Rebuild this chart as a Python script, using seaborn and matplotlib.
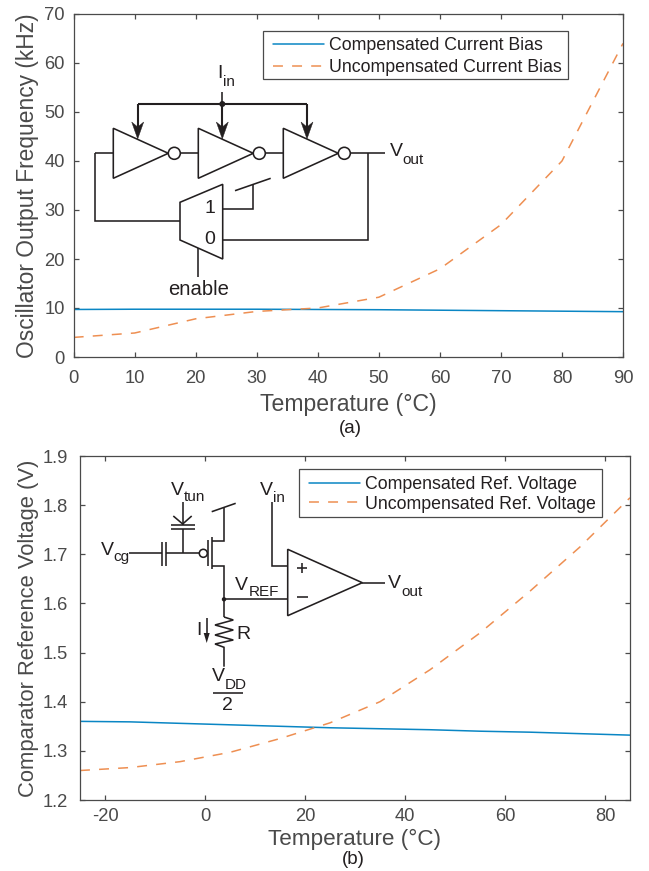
import numpy as np
import pandas as pd
import seaborn as sns
import matplotlib
matplotlib.use("Agg")
import matplotlib.pyplot as plt
from matplotlib.patches import Circle, Polygon, Rectangle

sns.set_theme(style="ticks")
plt.rcParams["font.family"] = ["Liberation Sans", "DejaVu Sans"]
plt.rcParams["axes.unicode_minus"] = False

temp_a = [0, 10, 20, 30, 40, 50, 60, 70, 80, 90]
comp_a = [9.7, 9.75, 9.75, 9.75, 9.7, 9.65, 9.55, 9.45, 9.35, 9.25]
uncomp_a = [4.0, 4.9, 7.8, 9.3, 10.0, 12.2, 18.0, 27.0, 40.0, 64.0]
temp_b = [-25, -15, -5, 5, 15, 25, 35, 45, 55, 65, 75, 85]
comp_b = [1.36, 1.359, 1.356, 1.353, 1.35, 1.347, 1.345, 1.343, 1.34, 1.338, 1.335, 1.332]
uncomp_b = [1.26, 1.266, 1.278, 1.297, 1.325, 1.357, 1.40, 1.465, 1.54, 1.625, 1.715, 1.815]
names_a = ["Compensated Current Bias", "Uncompensated Current Bias"]
names_b = ["Compensated Ref. Voltage", "Uncompensated Ref. Voltage"]
xticks_a = list(range(0, 91, 10))
yticks_a = list(range(0, 71, 10))
xticks_b = [-20, 0, 20, 40, 60, 80]
yticks_b = [1.2, 1.3, 1.4, 1.5, 1.6, 1.7, 1.8, 1.9]

W, H = 649, 871
BLUE, ORANGE, DARK, INK = "#0a86c4", "#ee8f52", "#4a4a4a", "#231f20"
fig = plt.figure(figsize=(W / 100, H / 100), dpi=100, facecolor="white")

# Overlay in pixel space for the schematics, captions and legend anchoring
ov = fig.add_axes([0, 0, 1, 1], facecolor="none", zorder=5)
ov.set_xlim(0, W)
ov.set_ylim(H, 0)
ov.axis("off")


def make_axes(x0, x1, ytop, ybot):
    return fig.add_axes([x0 / W, 1 - ybot / H, (x1 - x0) / W, (ybot - ytop) / H])


def panel(ax, box, x, c, u, names, xlim, ylim, xticks, yticks, ylabel, ylabs,
          xpad, ypad, xlabel_size, ylabel_size, xlabel_y, ylabel_x,
          frame, anchor, leg_size, leg_space):
    x0, x1, ytop, ybot = box
    df = pd.concat([
        pd.DataFrame({"T": x, "v": c, "s": names[0]}),
        pd.DataFrame({"T": x, "v": u, "s": names[1]}),
    ])
    sns.lineplot(data=df, x="T", y="v", hue="s", style="s",
                 palette=[BLUE, ORANGE], dashes=[(None, None), (6.5, 6)],
                 linewidth=1.1, ax=ax, legend=True, errorbar=None)
    ax.set_xlim(*xlim)
    ax.set_ylim(*ylim)
    ax.set_xticks(xticks)
    ax.set_yticks(yticks)
    ax.set_yticklabels(ylabs)
    ax.tick_params(direction="in", top=True, right=True, length=3.6, width=0.9,
                   color=DARK, labelcolor=DARK, labelsize=13.2)
    ax.tick_params(axis="x", pad=xpad)
    ax.tick_params(axis="y", pad=ypad)
    for s in ax.spines.values():
        s.set_visible(True)
        s.set_color(DARK)
        s.set_linewidth(0.9)
    ax.set_xlabel("Temperature (°C)", fontsize=xlabel_size, color=DARK, va="center")
    ax.set_ylabel(ylabel, fontsize=ylabel_size, color=DARK, va="center")
    ax.xaxis.set_label_coords(0.5, -(xlabel_y - ybot) / (ybot - ytop))
    ax.yaxis.set_label_coords(-(x0 - ylabel_x) / (x1 - x0), 0.5)
    fx0, fx1, fy0, fy1 = frame
    ax.add_patch(Rectangle((fx0, fy0), fx1 - fx0, fy1 - fy0, transform=ov.transData,
                           fc="white", ec=DARK, lw=0.9, zorder=4, clip_on=False))
    ax.legend(loc="upper left", bbox_to_anchor=anchor, bbox_transform=ov.transData,
              frameon=False, fontsize=leg_size, labelcolor=INK, borderpad=0,
              labelspacing=leg_space, handlelength=2.87, handletextpad=0.26,
              borderaxespad=0)


box_a = (73.7, 623, 14, 357)
axa = make_axes(*box_a)
panel(axa, box_a, temp_a, comp_a, uncomp_a, names_a, (0, 90), (0, 70), xticks_a, yticks_a,
      "Oscillator Output Frequency (kHz)", [str(v) for v in yticks_a],
      9.5, 6.3, 16.6, 16.4, 405, 28,
      (263.3, 568.3, 30.7, 79), (273, 37.5), 12.8, 0.25)
box_b = (80, 630, 456, 800)
axb = make_axes(*box_b)
panel(axb, box_b, temp_b, comp_b, uncomp_b, names_b, (-25, 85), (1.2, 1.9), xticks_b, yticks_b,
      "Comparator Reference Voltage (V)", [f"{v:.1f}" for v in yticks_b],
      6, 8.6, 16.2, 15.8, 839.5, 29,
      (299.3, 601.7, 469, 516.7), (309.3, 476.2), 12.8, 0.13)

LW = 1.15


def wire(*pts, lw=LW):
    xs, ys = zip(*pts)
    ov.plot(xs, ys, color=INK, lw=lw, solid_capstyle="butt", solid_joinstyle="miter")


def tri(*pts):
    ov.add_patch(Polygon(pts, closed=True, fc="none", ec=INK, lw=LW, joinstyle="miter"))


def dot(x, y, r):
    ov.add_patch(Circle((x, y), r, fc=INK, ec=INK, lw=0))


def bubble(x, y, r):
    ov.add_patch(Circle((x, y), r, fc="white", ec=INK, lw=LW, zorder=4))


def label(x, y, main, sub=None, size=14, subdy=8):
    t = ov.text(x, y, main, fontsize=size, color=INK, ha="left", va="center")
    if sub:
        bb = t.get_window_extent(fig.canvas.get_renderer())
        ov.text(bb.x1 + 0.3, y + subdy, sub, fontsize=11, color=INK, ha="left", va="center")


def down_arrow(x, y0, y1, hw=6, hl=15):
    wire((x, y0), (x, y1 - hl + 3), lw=1.5)
    ov.add_patch(Polygon([(x, y1), (x - hw, y1 - hl - 2), (x, y1 - hl + 3), (x + hw, y1 - hl - 2)],
                         closed=True, fc=INK, ec=INK, lw=0.3))


# Panel (a) schematic: ring oscillator
for x in (113.3, 198.3, 283.3):
    tri((x, 128.3), (x, 178.3), (x + 55, 153.3))
    bubble(x + 61, 153.3, 6)
wire((95, 153.3), (113.3, 153.3))
wire((180.5, 153.3), (198.3, 153.3))
wire((265.5, 153.3), (283.3, 153.3))
wire((350.3, 153.3), (385, 153.3))
wire((95, 153.3), (95, 221.5), (180, 221.5))
wire((368.3, 153.3), (368.3, 240), (222.7, 240))
tri((180, 202.3), (222.7, 184.3), (222.7, 259), (180, 240))
wire((222.7, 209), (252.7, 209), (252.7, 185))
wire((235, 190.7), (270.7, 178.3))
wire((198.3, 248), (198.3, 277.3))
wire((137.7, 104), (307, 104), lw=1.5)
wire((222.3, 91.7), (222.3, 104))
for x in (137.7, 222.3, 307):
    down_arrow(x, 104, 139)
dot(222.3, 104, 3)
label(217, 73, "I", "in", subdy=9)
label(389.5, 152, "V", "out")
ov.text(210, 208, "1", fontsize=14, color=INK, ha="center", va="center")
ov.text(210, 239, "0", fontsize=14, color=INK, ha="center", va="center")
ov.text(198.3, 289, "enable", fontsize=14.6, color=INK, ha="center", va="center")

# Panel (b) schematic: floating gate reference and comparator
wire((182.7, 501.7), (182.7, 525))
wire((182.7, 529.3), (182.7, 553.3))
wire((170.7, 525), (195, 525))
wire((170.7, 529.3), (195, 529.3))
wire((173.3, 516), (182.7, 524), (191.7, 516))
wire((129.3, 553.3), (161.7, 553.3))
wire((161.7, 541.7), (161.7, 565.7))
wire((166, 541.7), (166, 565.7))
wire((166, 553.3), (199.3, 553.3))
bubble(203.3, 553.3, 4)
wire((207.7, 540), (207.7, 565.7))
wire((211.7, 537.3), (211.7, 569.3))
wire((211.7, 540.7), (224, 540.7), (224, 508.3))
wire((211.7, 511.7), (235.7, 503.3))
wire((211.7, 565.7), (224, 565.7), (224, 617))
wire((224, 599.3), (287.7, 599.3))
dot(224, 599.3, 2.2)
wire((224, 617), (233.3, 620), (215, 625), (233.3, 630), (215, 635), (233.3, 640), (215, 644), (224, 647.3), (224, 666.7))
wire((206.7, 618), (206.7, 636))
ov.add_patch(Polygon([(206.7, 643), (203.7, 633), (209.7, 633)], closed=True, fc=INK, ec=INK, lw=0))
wire((271.7, 501.7), (271.7, 566), (287.7, 566))
tri((287.7, 549.3), (287.7, 615.7), (362.3, 582.7))
wire((362.3, 582.7), (385, 582.7))
wire((296.5, 568), (307, 568))
wire((301.7, 563), (301.7, 573))
wire((296.5, 597.3), (308, 597.3))
wire((213.3, 692.7), (243.3, 692.7))
label(170.5, 490, "V", "tun", subdy=7)
label(100.5, 550, "V", "cg", subdy=7)
label(259.5, 490, "V", "in", subdy=7.5)
label(235, 585, "V", "REF", subdy=7)
label(388, 583, "V", "out", subdy=9)
label(196, 630, "I")
label(236, 634, "R")
label(211.5, 676.5, "V", "DD", subdy=8)
ov.text(227, 705, "2", fontsize=14, color=INK, ha="center", va="center")

ov.text(350, 428, "(a)", fontsize=13.5, color=INK, ha="center", va="center")
ov.text(353, 859, "(b)", fontsize=13.5, color=INK, ha="center", va="center")

fig.savefig("out.png", dpi=100, facecolor="white")
